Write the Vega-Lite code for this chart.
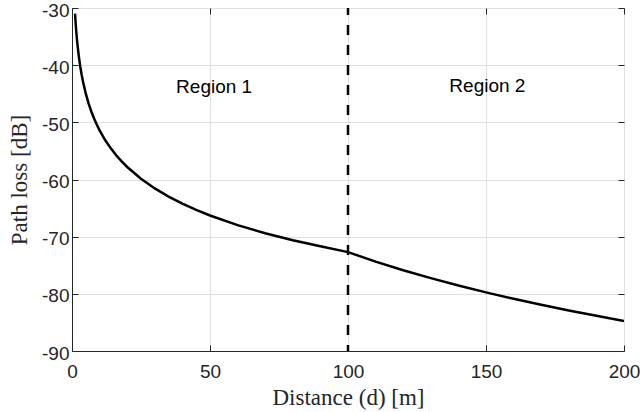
{
  "$schema": "https://vega.github.io/schema/vega-lite/v6.json",
  "autosize": "none",
  "width": 552,
  "height": 343,
  "padding": {"left": 72, "top": 8, "right": 16, "bottom": 61},
  "background": "white",
  "config": {
    "view": {"stroke": "#262626", "strokeWidth": 1},
    "axis": {
      "labelFont": "Liberation Sans",
      "labelFontSize": 19,
      "labelColor": "#262626",
      "titleFont": "Liberation Serif",
      "titleFontSize": 23,
      "titleFontWeight": "normal",
      "titleColor": "#262626",
      "gridColor": "#e0e0e0",
      "gridWidth": 1,
      "domainColor": "#262626",
      "tickColor": "#262626",
      "tickSize": -6
    }
  },
  "datasets": {
    "curve": [
      {"d": 1.1, "pl": -30.98}, {"d": 1.25, "pl": -32.16}, {"d": 1.5, "pl": -33.85}, {"d": 1.75, "pl": -35.28},
      {"d": 2, "pl": -36.51}, {"d": 2.5, "pl": -38.58}, {"d": 3, "pl": -40.26}, {"d": 3.5, "pl": -41.69},
      {"d": 4, "pl": -42.92}, {"d": 5, "pl": -44.99}, {"d": 6, "pl": -46.68}, {"d": 7, "pl": -48.10},
      {"d": 8, "pl": -49.34}, {"d": 9, "pl": -50.42}, {"d": 10, "pl": -51.40}, {"d": 12, "pl": -53.09},
      {"d": 14, "pl": -54.51}, {"d": 16, "pl": -55.75}, {"d": 18, "pl": -56.84}, {"d": 20, "pl": -57.81},
      {"d": 25, "pl": -59.88}, {"d": 30, "pl": -61.56}, {"d": 35, "pl": -62.99}, {"d": 40, "pl": -64.22},
      {"d": 45, "pl": -65.31}, {"d": 50, "pl": -66.29}, {"d": 60, "pl": -67.98}, {"d": 70, "pl": -69.40},
      {"d": 80, "pl": -70.64}, {"d": 90, "pl": -71.68}, {"d": 100, "pl": -72.70}, {"d": 110, "pl": -74.36},
      {"d": 120, "pl": -75.87}, {"d": 130, "pl": -77.26}, {"d": 140, "pl": -78.54}, {"d": 150, "pl": -79.74},
      {"d": 160, "pl": -80.86}, {"d": 170, "pl": -81.92}, {"d": 180, "pl": -82.91}, {"d": 190, "pl": -83.85},
      {"d": 200, "pl": -84.74}
    ],
    "labels": [
      {"d": 51.5, "pl": -43.8, "text": "Region 1"},
      {"d": 150.5, "pl": -43.7, "text": "Region 2"}
    ],
    "boundary": [{"d": 100}]
  },
  "resolve": {"axis": {"x": "independent", "y": "independent"}},
  "layer": [
    {
      "data": {"name": "curve"},
      "mark": {"type": "line", "color": "black", "strokeWidth": 2.5, "clip": true},
      "encoding": {
        "x": {"field": "d", "type": "quantitative", "scale": {"domain": [0, 200], "nice": false},
              "axis": {"values": [0, 50, 100, 150, 200], "title": "Distance (d) [m]", "labelPadding": 17, "titlePadding": 5, "labelFlush": false, "labelExpr": "datum.value + ''"}},
        "y": {"field": "pl", "type": "quantitative", "scale": {"domain": [-90, -30], "nice": false, "zero": false},
              "axis": {"values": [-90, -80, -70, -60, -50, -40, -30], "title": "Path loss [dB]", "labelPadding": 9, "titlePadding": 10, "labelOffset": 2, "labelExpr": "datum.value + ''"}}
      }
    },
    {
      "data": {"name": "boundary"},
      "mark": {"type": "rule", "color": "black", "strokeWidth": 2.5, "strokeDash": [10, 10], "strokeDashOffset": 3},
      "encoding": {
        "x": {"field": "d", "type": "quantitative",
              "axis": {"orient": "top", "values": [0, 50, 100, 150, 200], "labels": false, "grid": false, "domain": false, "title": null}}
      }
    },
    {
      "data": {"name": "labels"},
      "mark": {"type": "text", "font": "Liberation Sans", "fontSize": 19, "color": "black", "align": "center", "baseline": "middle"},
      "encoding": {
        "x": {"field": "d", "type": "quantitative", "axis": null},
        "y": {"field": "pl", "type": "quantitative",
              "axis": {"orient": "right", "values": [-90, -80, -70, -60, -50, -40, -30], "labels": false, "grid": false, "domain": false, "title": null}},
        "text": {"field": "text"}
      }
    }
  ]
}
